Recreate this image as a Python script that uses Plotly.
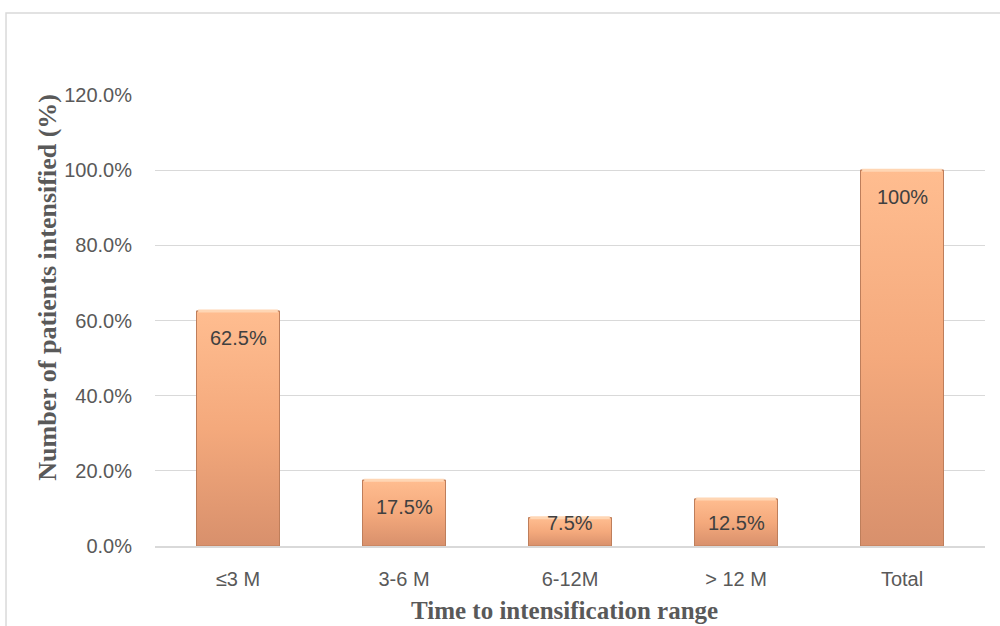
import plotly.graph_objects as go

# Share of intensified patients by time-to-intensification bucket
categories = ["≤3 M", "3-6 M", "6-12M", "> 12 M", "Total"]
percent_values = [62.5, 17.5, 7.5, 12.5, 100.0]
value_labels = ["62.5%", "17.5%", "7.5%", "12.5%", "100%"]
y_ticks = [0, 20, 40, 60, 80, 100, 120]
y_tick_labels = ["0.0%", "20.0%", "40.0%", "60.0%", "80.0%", "100.0%", "120.0%"]

Y_MAX = 120
PLOT_TOP, PLOT_BOTTOM = 95, 80
HEIGHT = 626
BAR_WIDTH = 0.5
px_per_unit = (HEIGHT - PLOT_TOP - PLOT_BOTTOM) / Y_MAX

tick_font = dict(family="Liberation Sans", size=20, color="#595959")
label_font = dict(family="Liberation Sans", size=20, color="#404040")

positions = list(range(len(categories)))

fig = go.Figure()

# base bars
fig.add_trace(go.Bar(
    x=positions,
    y=percent_values,
    width=BAR_WIDTH,
    marker=dict(color="#F4A87B", line=dict(color="#B97A56", width=1)),
    hoverinfo="skip",
    showlegend=False,
))

# vertical gradient over each bar body (light top, darker base)
half = BAR_WIDTH / 2
for pos, val in zip(positions, percent_values):
    fig.add_trace(go.Scatter(
        x=[pos - half, pos + half, pos + half, pos - half, pos - half],
        y=[0, 0, val, val, 0],
        mode="lines",
        fill="toself",
        fillgradient=dict(
            type="vertical",
            colorscale=[[0, "#D8906C"], [0.5, "#F4A97C"], [1, "#FFBD90"]],
        ),
        line=dict(color="#BE7E5B", width=1),
        hoverinfo="skip",
        showlegend=False,
    ))
    # light bevel along the top edge
    fig.add_trace(go.Scatter(
        x=[pos - half + 0.01, pos + half - 0.01],
        y=[val, val],
        mode="lines",
        line=dict(color="#FFD6B4", width=3),
        hoverinfo="skip",
        showlegend=False,
    ))

# value labels just inside the top of each bar, kept clear of the baseline
for pos, val, lab in zip(positions, percent_values, value_labels):
    label_y = max(val - 27 / px_per_unit, 23 / px_per_unit)
    fig.add_annotation(
        x=pos, y=label_y, text=lab, showarrow=False,
        yanchor="middle", font=label_font,
    )

# axis titles
fig.add_annotation(
    xref="paper", yref="paper", x=-0.130, y=0.573,
    text="<b>Number of patients intensified (%)</b>", textangle=-90,
    showarrow=False, xanchor="center", yanchor="middle",
    font=dict(family="Liberation Serif", size=26, color="#595959"),
)
fig.add_annotation(
    xref="paper", yref="paper", x=0.493, y=-0.142,
    text="<b>Time to intensification range</b>",
    showarrow=False, xanchor="center", yanchor="middle",
    font=dict(family="Liberation Serif", size=25, color="#595959"),
)

# chart-area frame
fig.add_shape(
    type="rect", xref="paper", yref="paper",
    x0=-0.1795, x1=1.2, y0=-0.4, y1=1.1818,
    line=dict(color="#D9D9D9", width=1.5), fillcolor="rgba(0,0,0,0)", layer="below",
)

fig.update_layout(
    width=1000, height=HEIGHT,
    margin=dict(l=155, r=15, t=PLOT_TOP, b=PLOT_BOTTOM),
    paper_bgcolor="white", plot_bgcolor="white",
)
fig.update_xaxes(
    range=[-0.5, len(categories) - 0.5],
    tickvals=positions, ticktext=categories,
    tickfont=tick_font, showgrid=False, ticks="", zeroline=False,
    showline=True, linecolor="#D9D9D9", linewidth=1.5,
    ticklabelstandoff=14,
)
fig.update_yaxes(
    range=[0, Y_MAX], tickvals=y_ticks, ticktext=y_tick_labels,
    tickfont=tick_font, showgrid=True, gridcolor="#D9D9D9", gridwidth=1,
    zeroline=False, showline=False, ticks="", ticklabelstandoff=22,
)

fig.write_html("out.html")
